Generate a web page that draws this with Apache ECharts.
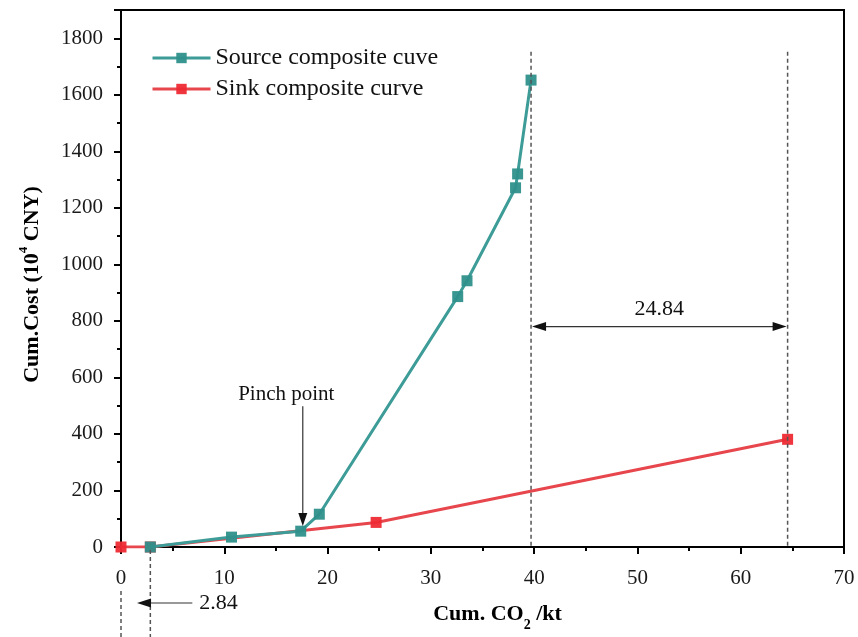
<!DOCTYPE html>
<html>
<head>
<meta charset="utf-8">
<script src="https://cdn.jsdelivr.net/npm/echarts@6.0.0/dist/echarts.min.js"></script>
<style>
  html, body { margin: 0; padding: 0; background: #fff; }
  #chart { width: 858px; height: 637px; }
</style>
</head>
<body>
<div id="chart"></div>
<script>
// Source composite curve (cum. CO2 kt, cum. cost 10^4 CNY)
const sourceX = [2.84, 10.7, 17.4, 19.2, 32.6, 33.5, 38.2, 38.4, 39.7];
const sourceY = [0, 35, 56, 116, 886, 942, 1271, 1320, 1652];

// Sink composite curve
const sinkX = [0, 2.84, 24.7, 64.54];
const sinkY = [0, 0, 87, 381];

const seriesNames = ["Source composite cuve", "Sink composite curve"];

// Axis ranges
const xRange = [0, 70, 10];
const yRange = [0, 1900, 200];

// Annotations
const offsetStart = 2.84;
const pinchX = 17.6;
const pinchArrowY = [498, 74];
const pinchTextY = 540;
const sourceEnd = 39.7;
const sinkEnd = 64.54;
const dashTopY = 1752;
const gapArrowY = 780;
const gapTextY = 842;

const FONT = '"Liberation Serif", "Times New Roman", serif';
const TEAL = "#3d9c97";
const RED = "#e8464d";

const chart = echarts.init(document.getElementById("chart"), null, { renderer: "canvas" });

function toPairs(xs, ys) {
  return xs.map((x, i) => [x, ys[i]]);
}

function axisCommon() {
  return {
    type: "value",
    axisLine: { show: true, onZero: false, lineStyle: { color: "#000", width: 2 } },
    axisTick: { show: true, inside: false, length: 7, lineStyle: { color: "#000", width: 2 } },
    minorTick: { show: true, splitNumber: 2, length: 4, lineStyle: { color: "#000", width: 2 } },
    splitLine: { show: false },
    axisLabel: {
      color: "#1a1a1a",
      fontSize: 21,
      fontFamily: FONT,
      margin: 14,
      formatter: (v) => String(v),
    },
  };
}

const xAxis = Object.assign(axisCommon(), {
  min: xRange[0],
  max: xRange[1],
  interval: xRange[2],
  name: "{b|Cum. CO}{sub|2}{b| /kt}",
  nameLocation: "middle",
  nameGap: 56,
  nameTextStyle: {
    padding: [0, 0, 0, 30],
    rich: {
      b: { fontSize: 22, fontWeight: "bold", fontFamily: FONT, color: "#000", verticalAlign: "top", lineHeight: 29 },
      sub: { fontSize: 14, fontWeight: "bold", fontFamily: FONT, color: "#000", verticalAlign: "bottom", lineHeight: 14 },
    },
  },
});
xAxis.axisLabel.margin = 21;

const yAxis = Object.assign(axisCommon(), {
  min: yRange[0],
  max: yRange[1],
  interval: yRange[2],
  name: "{b|Cum.Cost (10}{sup|4}{b| CNY)}",
  nameLocation: "middle",
  nameGap: 78,
  nameTextStyle: {
    padding: [0, 12, 0, 0],
    rich: {
      b: { fontSize: 22, fontWeight: "bold", fontFamily: FONT, color: "#000", verticalAlign: "bottom", lineHeight: 26 },
      sup: { fontSize: 13, fontWeight: "bold", fontFamily: FONT, color: "#000", verticalAlign: "top", lineHeight: 13 },
    },
  },
});
yAxis.axisLabel.showMaxLabel = false;
yAxis.axisLabel.margin = 18;

const option = {
  animation: false,
  backgroundColor: "#fff",
  grid: { left: 121, right: 14, top: 10, bottom: 89, show: true, borderColor: "#000", borderWidth: 2 },
  legend: {
    orient: "vertical",
    left: 146,
    top: 41,
    itemGap: 7,
    itemWidth: 58,
    itemHeight: 13,
    lineStyle: { width: 3 },
    textStyle: { fontSize: 24, fontFamily: FONT, color: "#111", padding: [0, 0, 0, 0] },
    data: seriesNames,
  },
  xAxis: xAxis,
  yAxis: yAxis,
  series: [
    {
      name: seriesNames[0],
      type: "line",
      data: toPairs(sourceX, sourceY),
      symbol: "rect",
      symbolSize: 11,
      z: 3,
      lineStyle: { color: TEAL, width: 3 },
      itemStyle: { color: "#2f908b", opacity: 0.95 },
    },
    {
      name: seriesNames[1],
      type: "line",
      data: toPairs(sinkX, sinkY),
      symbol: "rect",
      symbolSize: 11,
      z: 2,
      lineStyle: { color: RED, width: 3 },
      itemStyle: { color: "#ee2a33", opacity: 0.95 },
    },
  ],
};

chart.setOption(option);

// Annotations placed through the chart's own scales
function px(x, y) {
  return chart.convertToPixel({ gridIndex: 0 }, [x, y]);
}

function dashed(x1, y1, x2, y2) {
  return {
    type: "line",
    shape: { x1, y1, x2, y2 },
    style: { stroke: "#555", lineWidth: 1.5, lineDash: [4, 3] },
    z: 10,
  };
}

function solid(x1, y1, x2, y2) {
  return {
    type: "line",
    shape: { x1, y1, x2, y2 },
    style: { stroke: "#333", lineWidth: 1.2 },
    z: 10,
  };
}

function head(tx, ty, dir) {
  // dir: 'left' | 'right' | 'down'
  let pts;
  if (dir === "left") pts = [[tx, ty], [tx + 14, ty - 4.5], [tx + 14, ty + 4.5]];
  else if (dir === "right") pts = [[tx, ty], [tx - 14, ty - 4.5], [tx - 14, ty + 4.5]];
  else pts = [[tx, ty], [tx - 4.5, ty - 13], [tx + 4.5, ty - 13]];
  return { type: "polygon", shape: { points: pts }, style: { fill: "#111" }, z: 11 };
}

function label(text, x, y, size, align) {
  return {
    type: "text",
    x,
    y,
    style: {
      text,
      fill: "#111",
      font: `${size}px ${FONT}`,
      align: align || "center",
      verticalAlign: "middle",
    },
    z: 11,
  };
}

const axisBase = px(0, 0)[1];
const bottomY = 637;
const g = [];

// dashed guides below the axis at 0 and at the source start
const p0 = px(0, 0);
const pStart = px(offsetStart, 0);
g.push(dashed(p0[0], axisBase + 44, p0[0], bottomY));
g.push(dashed(pStart[0], axisBase + 3, pStart[0], bottomY));

// 2.84 arrow
const arrowY = axisBase + 56;
g.push(solid(pStart[0] - 2, arrowY, pStart[0] + 42, arrowY));
g.push(head(p0[0] + 16, arrowY, "left"));
g.push(label(String(offsetStart), pStart[0] + 49, arrowY, 22, "left"));

// dashed guides at the ends of source and sink curves
const srcTop = px(sourceEnd, dashTopY);
const sinkTop = px(sinkEnd, dashTopY);
g.push(dashed(srcTop[0], srcTop[1], srcTop[0], axisBase));
g.push(dashed(sinkTop[0], sinkTop[1], sinkTop[0], axisBase));

// 24.84 double arrow
const gA = px(sourceEnd, gapArrowY);
const gB = px(sinkEnd, gapArrowY);
g.push(solid(gA[0] + 6, gA[1], gB[0] - 6, gB[1]));
g.push(head(gA[0] + 1, gA[1], "left"));
g.push(head(gB[0] - 1, gB[1], "right"));
const gT = px((sourceEnd + sinkEnd) / 2, gapTextY);
g.push(label((sinkEnd - sourceEnd).toFixed(2), gT[0], gT[1], 22));

// Pinch point
const pa = px(pinchX, pinchArrowY[0]);
const pb = px(pinchX, pinchArrowY[1]);
g.push(solid(pa[0], pa[1], pb[0], pb[1] - 10));
g.push(head(pb[0], pb[1], "down"));
const pt = px(pinchX - 1.6, pinchTextY);
g.push(label("Pinch point", pt[0], pt[1], 21));

chart.setOption({ graphic: g });
</script>
</body>
</html>
